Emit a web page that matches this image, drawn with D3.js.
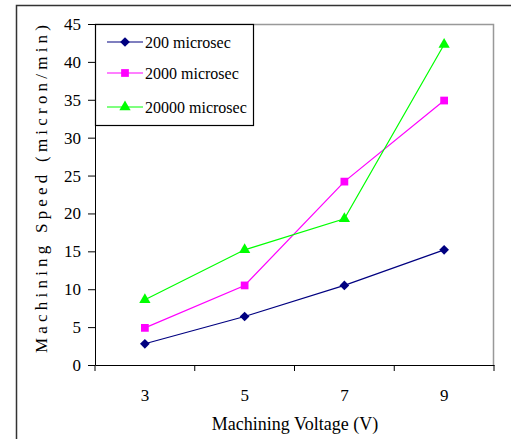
<!DOCTYPE html>
<html lang="en">
<head>
    <meta charset="UTF-8">
    <title>machining speed</title>
    <script src="https://d3js.org/d3.v7.min.js"></script>
    <style>
        body { margin: 0; background: #fff; }
    </style>
</head>
<body>
    <svg id="chart" width="511" height="439" style='font-family: "Liberation Serif"'></svg>

    <script>
        const voltages = [3, 5, 7, 9];
        const speed200 = [2.8, 6.4, 10.5, 15.2];
        const speed2000 = [4.9, 10.5, 24.2, 34.9];
        const speed20000 = [8.6, 15.2, 19.3, 42.3];
        const yTicks = [0, 5, 10, 15, 20, 25, 30, 35, 40, 45];

        const series = [
            { name: "200 microsec", values: speed200, color: "#000080", marker: d3.symbolDiamond2, size: 60 },
            { name: "2000 microsec", values: speed2000, color: "#ff00ff", marker: d3.symbolSquare, size: 60 },
            { name: "20000 microsec", values: speed20000, color: "#00ff00", marker: d3.symbolTriangle, size: 55 }
        ];

        const fontName = '"Liberation Serif"';

        const svg = d3.select("#chart");
        const margin = { top: 24, right: 17, bottom: 74, left: 95 };
        const width = +svg.attr("width");
        const height = +svg.attr("height");
        const plotWidth = width - margin.left - margin.right;
        const plotHeight = height - margin.top - margin.bottom;

        // outer chart frame (cropped on right and bottom)
        svg.append("path")
            .attr("d", "M16.5,439 V5.5 H511")
            .attr("fill", "none")
            .attr("stroke", "#333")
            .attr("stroke-width", 1.5);

        const plot = svg.append("g")
            .attr("transform", "translate(" + margin.left + "," + margin.top + ")");

        const x = d3.scaleBand().domain(voltages).range([0, plotWidth]).padding(0);
        const y = d3.scaleLinear().domain([0, 45]).range([plotHeight, 0]);

        // plot area border top/right
        plot.append("path")
            .attr("d", `M0,0.5 H${plotWidth - 0.5} V${plotHeight}`)
            .attr("fill", "none")
            .attr("stroke", "#999")
            .attr("stroke-width", 1.5);

        // y axis
        const yAxis = plot.append("g")
            .call(d3.axisLeft(y).tickValues(yTicks).tickSize(7).tickPadding(7).tickSizeOuter(0))
            .attr("font-family", null)
            .attr("font-size", null);
        yAxis.select(".domain").attr("stroke", "#000");
        yAxis.selectAll("text")
            .style("font-size", "17px")
            .style("font-family", fontName);

        // x axis with ticks between categories
        const xAxis = plot.append("g")
            .attr("transform", `translate(0,${plotHeight})`)
            .call(d3.axisBottom(x).tickSize(0).tickPadding(24).tickSizeOuter(0))
            .attr("font-family", null)
            .attr("font-size", null);
        xAxis.select(".domain").attr("stroke", "#000");
        xAxis.selectAll("text")
            .style("font-size", "17px")
            .style("font-family", fontName);

        const bounds = voltages.map(v => x(v)).concat([plotWidth]);
        xAxis.selectAll(".bound")
            .data(bounds)
            .join("line")
            .attr("class", "bound")
            .attr("x1", d => d).attr("x2", d => d)
            .attr("y1", 0).attr("y2", 6)
            .attr("stroke", "#000");

        const line = d3.line()
            .x((d, i) => x(voltages[i]) + x.bandwidth() / 2)
            .y(d => y(d));

        series.forEach(s => {
            plot.append("path")
                .attr("d", line(s.values))
                .attr("fill", "none")
                .attr("stroke", s.color)
                .attr("stroke-width", 1.2);

            plot.selectAll(null)
                .data(s.values)
                .join("path")
                .attr("d", d3.symbol().type(s.marker).size(s.size))
                .attr("transform", (d, i) => `translate(${x(voltages[i]) + x.bandwidth() / 2},${y(d)})`)
                .attr("fill", s.color);
        });

        // legend
        const legend = plot.append("g");
        legend.append("rect")
            .attr("x", 0.5).attr("y", 0.5)
            .attr("width", 158).attr("height", 101)
            .attr("fill", "#fff")
            .attr("stroke", "#000")
            .attr("stroke-width", 1.2);

        const rowY = [18, 49, 83];
        series.forEach((s, i) => {
            const g = legend.append("g").attr("transform", `translate(0,${rowY[i]})`);
            g.append("line")
                .attr("x1", 12).attr("x2", 48)
                .attr("stroke", s.color)
                .attr("stroke-width", 1.2);
            g.append("path")
                .attr("d", d3.symbol().type(s.marker).size(s.size))
                .attr("transform", "translate(30,0)")
                .attr("fill", s.color);
            g.append("text")
                .attr("x", 50)
                .attr("y", 0)
                .attr("dy", "0.35em")
                .style("font-size", "16px")
                .style("font-family", fontName)
                .text(s.name);
        });

        // axis titles
        svg.append("text")
            .attr("transform", "translate(47,353) rotate(-90)")
            .attr("x", 0)
            .attr("y", 0)
            .attr("textLength", 328)
            .attr("lengthAdjust", "spacing")
            .style("font-size", "17px")
            .style("font-family", fontName)
            .text("Machining Speed (micron/min)");

        svg.append("text")
            .attr("x", 295)
            .attr("y", 430)
            .attr("text-anchor", "middle")
            .style("font-size", "18px")
            .style("font-family", fontName)
            .text("Machining Voltage (V)");
    </script>
</body>
</html>
